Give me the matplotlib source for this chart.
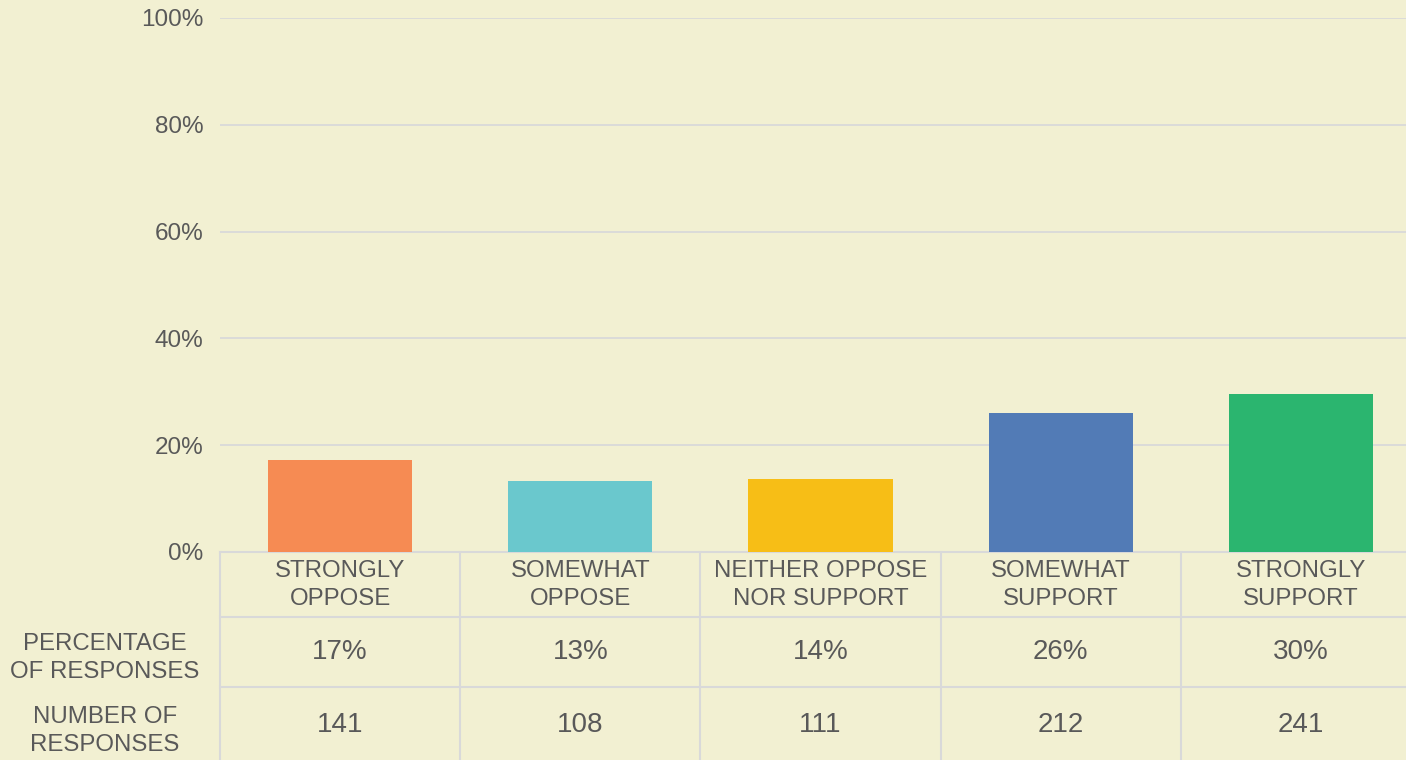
import matplotlib.pyplot as plt
from matplotlib.transforms import blended_transform_factory

# data
categories = ['STRONGLY\nOPPOSE', 'SOMEWHAT\nOPPOSE', 'NEITHER OPPOSE\nNOR SUPPORT',
              'SOMEWHAT\nSUPPORT', 'STRONGLY\nSUPPORT']
pct_values = [17.3, 13.3, 13.7, 26.1, 29.6]
counts = [141, 108, 111, 212, 241]
bar_colors = ['#F68B53', '#6AC8CD', '#F7BE16', '#527BB6', '#2BB56F']
row_labels = ['PERCENTAGE\nOF RESPONSES', 'NUMBER OF\nRESPONSES']

bg = '#F2F0D2'
grid_col = '#D9D9D9'
txt_col = '#595959'

plt.rcParams['font.family'] = ['Liberation Sans', 'DejaVu Sans']

W, H = 1406, 760
fig = plt.figure(figsize=(W / 100, H / 100), dpi=100, facecolor=bg)

# axes: left 220px, right 1421px (runs past the edge), top 18px, bottom 552px
x0, x1, y_top, y_bot = 220, 1421, 18, 552
ax = fig.add_axes([x0 / W, (H - y_bot) / H, (x1 - x0) / W, (y_bot - y_top) / H])
ax.set_facecolor(bg)

xs = range(len(categories))
ax.bar(xs, pct_values, width=0.6, color=bar_colors, zorder=3)

ax.set_xlim(-0.5, len(categories) - 0.5)
ax.set_ylim(0, 100)
ax.set_yticks([0, 20, 40, 60, 80, 100])
ax.set_yticklabels([f'{v}%' for v in [0, 20, 40, 60, 80, 100]])
ax.tick_params(axis='y', length=0, pad=12, labelsize=17.5, labelcolor=txt_col)
ax.tick_params(axis='x', length=0, labelbottom=False)
for s in ax.spines.values():
    s.set_visible(False)
ax.grid(axis='y', color=grid_col, linewidth=1.3, zorder=0)
ax.set_axisbelow(True)

# table under the plot
axh = y_bot - y_top
def ay(py):
    return (y_bot - py) / axh

row_edges = [552, 617, 687, 770]
tr = blended_transform_factory(ax.transData, ax.transAxes)
for i in range(len(categories) + 1):
    ax.plot([i - 0.5, i - 0.5], [ay(row_edges[0]), ay(row_edges[-1])], color=grid_col,
            lw=1.5, transform=tr, clip_on=False, zorder=1)
for py in row_edges[:3]:
    ax.plot([-0.5, len(categories) - 0.5], [ay(py), ay(py)], color=grid_col,
            lw=1.5, transform=tr, clip_on=False, zorder=1)

pct_labels = [f'{round(v)}%' for v in pct_values]
for i, cat in enumerate(categories):
    ax.text(i, ay(585), cat, transform=tr, ha='center', va='center', fontsize=17.3,
            color=txt_col, linespacing=1.38)
    ax.text(i, ay(652), pct_labels[i], transform=tr, ha='center', va='center',
            fontsize=20, color=txt_col)
    ax.text(i, ay(725), str(counts[i]), transform=tr, ha='center', va='center',
            fontsize=20, color=txt_col)

fig.text(105 / W, 1 - 658 / H, row_labels[0], ha='center', va='center', fontsize=17.3,
         color=txt_col, linespacing=1.38)
fig.text(105 / W, 1 - 731 / H, row_labels[1], ha='center', va='center', fontsize=17.3,
         color=txt_col, linespacing=1.38)

fig.savefig('out.png', dpi=100, facecolor=bg)
